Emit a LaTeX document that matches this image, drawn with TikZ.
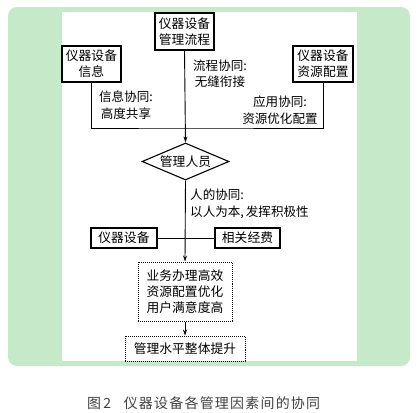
\documentclass[tikz,border=0pt]{standalone}
\usepackage{fontspec}
\newfontfamily\cjk{Noto Sans CJK SC}
\newfontfamily\capfont[LetterSpace=9]{Noto Sans CJK SC}
\usetikzlibrary{shapes.geometric,arrows.meta}
\definecolor{bggreen}{RGB}{198,233,201}
\tikzset{
  boxtext/.style={font=\cjk\fontsize{12.8}{16}\selectfont},
  labtext/.style={font=\cjk\fontsize{12.6}{16.5}\selectfont, inner sep=0pt},
  solidbox/.style={draw, line width=1.1pt, boxtext, align=center, inner sep=0pt},
  dotbox/.style={draw, densely dotted, line width=1pt, boxtext, align=center, inner sep=0pt},
  conn/.style={line width=0.9pt},
  arr/.style={conn, -{Stealth[length=6pt,width=4pt]}},
}
\begin{document}
\begin{tikzpicture}[x=1bp,y=-1bp]
\useasboundingbox (0,0) rectangle (420,413);
\fill[bggreen, rounded corners=9bp] (8,7) rectangle (410,366);
\fill[white] (62,12) rectangle (357,361);

\node[solidbox, minimum width=59bp, minimum height=37bp] (proc) at (184.5,31.5) {仪器设备\\管理流程};
\node[solidbox, minimum width=59bp, minimum height=36bp] (info) at (91.5,64) {仪器设备\\信息};
\node[solidbox, minimum width=60bp, minimum height=36bp] (res) at (323,64) {仪器设备\\资源配置};

\node[labtext, align=center] (l1) at (220,74) {流程协同:\\无缝衔接};
\node[labtext, align=center] (l2) at (126,105) {信息协同:\\高度共享};
\node[labtext, align=center] (l3) at (280,110) {应用协同:\\资源优化配置};

\node[draw, diamond, line width=1.1pt, boxtext, inner sep=0pt, minimum width=87bp, minimum height=37bp, aspect=2.35] (staff) at (185.5,161.5) {管理人员};

\node[labtext, align=left, anchor=west] (l4) at (190,204) {人的协同:\\以人为本,\kern2bp 发挥积极性};

\node[solidbox, minimum width=66bp, minimum height=20bp] (eq) at (124,238) {仪器设备};
\node[solidbox, minimum width=65bp, minimum height=20bp] (fund) at (247.5,238) {相关经费};

\node[dotbox, minimum width=94bp, minimum height=59bp] (out) at (185,291.5) {业务办理高效\\资源配置优化\\用户满意度高};
\node[dotbox, minimum width=120bp, minimum height=25bp] (final) at (185,348.5) {管理水平整体提升};

\coordinate (join) at (185,128);
\draw[conn] (info.south) |- (join) -| (res.south);
\draw[arr] (proc.south) -- (staff.north);
\draw[conn] (eq.east) -- (fund.west);
\draw[arr] (staff.south) -- (out.north);
\draw[arr] (out.south) -- (final.north);

\node[font=\capfont\fontsize{14}{16}\selectfont, text=black!75, anchor=west, inner sep=0pt] (cap) at (87,403) {图\,2\hspace{0.9em}仪器设备各管理因素间的协同};
\end{tikzpicture}
\end{document}
